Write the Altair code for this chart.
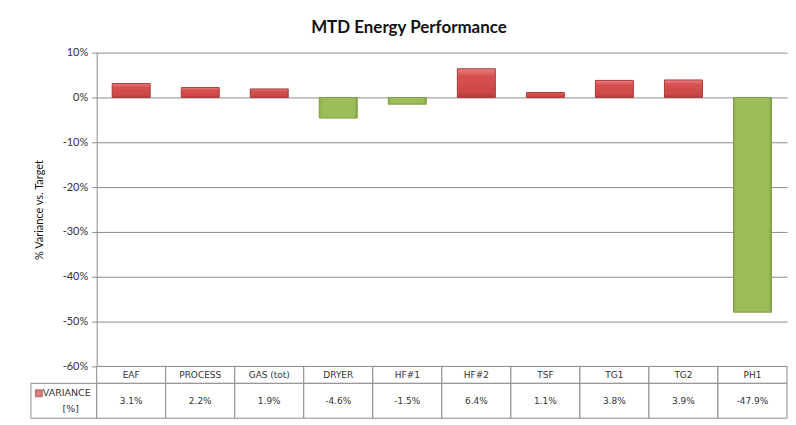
import altair as alt
import pandas as pd

categories = ["EAF", "PROCESS", "GAS (tot)", "DRYER", "HF#1", "HF#2", "TSF", "TG1", "TG2", "PH1"]
variance_pct = [3.1, 2.2, 1.9, -4.6, -1.5, 6.4, 1.1, 3.8, 3.9, -47.9]
y_ticks = [0.1, 0.0, -0.1, -0.2, -0.3, -0.4, -0.5, -0.6]
series_lines = ["VARIANCE", "[%]"]
title_text = "MTD Energy Performance"
y_title = "% Variance vs. Target"

GRID = "#8c8c8c"
W, H, TH = 693, 315, 52
HEAD = 17

df = pd.DataFrame({"cat": categories, "v": [x / 100 for x in variance_pct]})
df["label"] = [f"{x:.1f}%" for x in variance_pct]
df["sign"] = ["pos" if x >= 0 else "neg" for x in variance_pct]

xscale = alt.Scale(domain=categories, paddingInner=0, paddingOuter=0)
yscale = alt.Scale(domain=[-0.6, 0.1], nice=False, zero=False)

red_grad = alt.LinearGradient(gradient="linear", x1=0, y1=0, x2=0, y2=1, stops=[
    alt.GradientStop(offset=0, color="#EC8482"), alt.GradientStop(offset=0.25, color="#D6514F"),
    alt.GradientStop(offset=0.8, color="#CD4846"), alt.GradientStop(offset=1, color="#B03E3C")])
green_grad = alt.LinearGradient(gradient="linear", x1=0, y1=0, x2=1, y2=0, stops=[
    alt.GradientStop(offset=0, color="#8FAE4E"), alt.GradientStop(offset=0.1, color="#9DBD5B"),
    alt.GradientStop(offset=0.9, color="#9DBD5B"), alt.GradientStop(offset=1, color="#8AA84B")])

y_axis = alt.Axis(values=y_ticks, labelExpr="round(datum.value*100)+'%'",
                  title=y_title, grid=True, gridColor=GRID, domainColor=GRID,
                  tickColor=GRID, tickSize=5, labelFontSize=11, labelColor="#333333",
                  labelFont="Lato", labelPadding=4, titleFont="Lato", titleFontSize=11,
                  titleFontWeight="normal", titleColor="#111111", titlePadding=18)

base = alt.Chart(df).encode(
    x=alt.X("cat:N", scale=xscale, axis=None, sort=categories),
    y=alt.Y("v:Q", scale=yscale, axis=y_axis),
    y2=alt.datum(0),
)
pos_bars = base.transform_filter("datum.v >= 0").mark_bar(
    width={"band": 0.55}, strokeWidth=1, color=red_grad, stroke="#A63C3A")
neg_bars = base.transform_filter("datum.v < 0").mark_bar(
    width={"band": 0.55}, strokeWidth=1, color=green_grad, stroke="#7E9C44")

bars = alt.layer(pos_bars, neg_bars).properties(width=W, height=H)

# table below the plot
rows = pd.DataFrame({"row": ["head", "val"], "top": [0, HEAD], "bot": [HEAD, TH]})
cells = df.merge(rows, how="cross")
cells["mid"] = (cells["top"] + cells["bot"]) / 2
cells["text"] = [c if r == "head" else l for c, r, l in zip(cells["cat"], cells["row"], cells["label"])]

yscale_t = alt.Scale(domain=[0, TH], reverse=True, nice=False, zero=False)

cell_rects = alt.Chart(cells).mark_rect(fill="white", stroke=GRID, strokeWidth=1).encode(
    x=alt.X("cat:N", scale=xscale, axis=None, sort=categories),
    y=alt.Y("top:Q", scale=yscale_t, axis=None),
    y2="bot:Q",
)
cell_text = alt.Chart(cells).mark_text(font="DejaVu Sans", fontSize=9, color="#333333").encode(
    x=alt.X("cat:N", scale=xscale, axis=None, sort=categories),
    y=alt.Y("mid:Q", scale=yscale_t, axis=None),
    text="text:N",
)

legend_row = rows[rows["row"] == "val"].copy()
legend_cell = alt.Chart(legend_row).mark_rect(fill="white", stroke=GRID, strokeWidth=1).encode(
    x=alt.value(-66), x2=alt.value(0),
    y=alt.Y("top:Q", scale=yscale_t, axis=None), y2="bot:Q",
)
legend_df = pd.DataFrame({"t": series_lines, "pos": [27, 43]})
legend_sq = alt.Chart(legend_row).mark_square(size=36, color="#D24F4D", stroke="#A63C3A").encode(
    x=alt.value(-58), y=alt.value(27),
)
legend_txt1 = alt.Chart(legend_df.iloc[[0]]).mark_text(font="DejaVu Sans", fontSize=9.5, color="#333333", align="left").encode(
    x=alt.value(-54), y=alt.Y("pos:Q", scale=yscale_t, axis=None), text="t:N",
)
legend_txt2 = alt.Chart(legend_df.iloc[[1]]).mark_text(font="DejaVu Sans", fontSize=9.5, color="#333333").encode(
    x=alt.value(-26), y=alt.Y("pos:Q", scale=yscale_t, axis=None), text="t:N",
)

table = alt.layer(cell_rects, cell_text, legend_cell, legend_sq, legend_txt1, legend_txt2).properties(width=W, height=TH)

chart = alt.vconcat(bars, table, spacing=0, bounds="flush").properties(
    title=alt.TitleParams(title_text, font="Lato", fontSize=17, fontWeight="bold", color="#111111",
                          anchor="middle", offset=10),
    padding={"left": 22, "top": 10, "right": 0, "bottom": 0},
).configure_view(stroke=None).configure_concat(spacing=0)

chart.save("out.html", embed_options={"renderer": "svg", "actions": False})
